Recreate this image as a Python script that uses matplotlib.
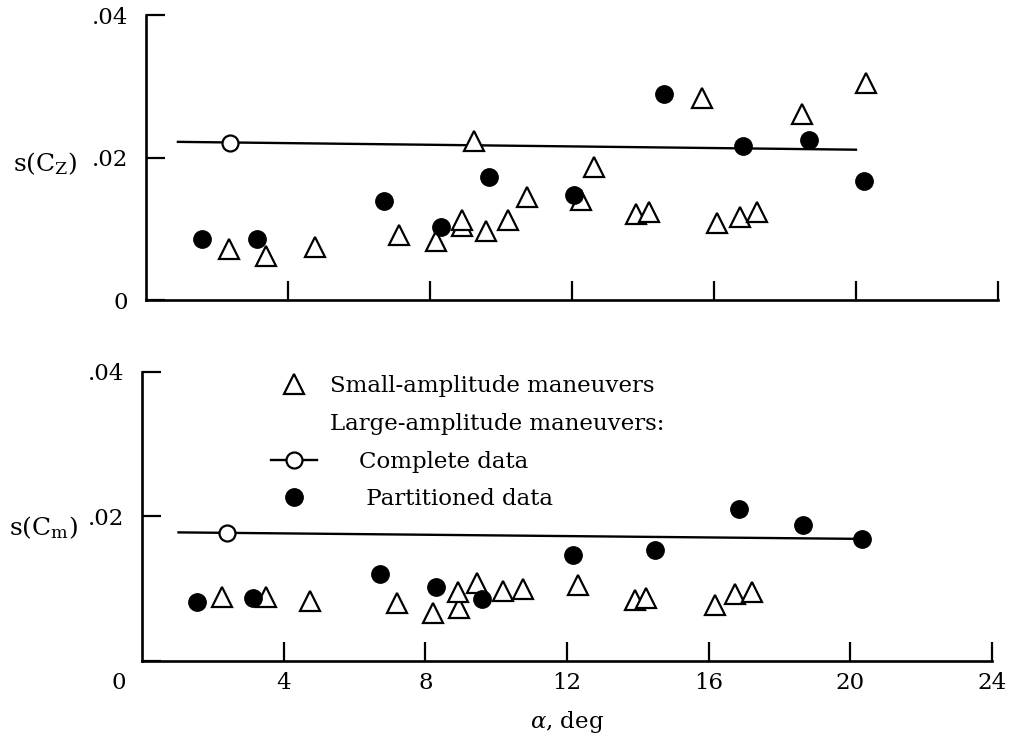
import numpy as np
import matplotlib
matplotlib.use('Agg')
import matplotlib.pyplot as plt

plt.rcParams['font.family'] = 'DejaVu Serif'
plt.rcParams['mathtext.fontset'] = 'dejavuserif'
plt.rcParams['font.size'] = 16.5

# s(C_Z), upper plot
tri_z_x = [2.33, 3.37, 4.77, 7.14, 8.16, 8.89, 8.89, 9.23, 9.57, 10.21, 10.74,
           12.25, 12.63, 13.79, 14.17, 15.65, 16.08, 16.73, 17.2, 18.49, 20.27]
tri_z_y = [0.0071, 0.0062, 0.0075, 0.0091, 0.0083, 0.0104, 0.0113, 0.0223, 0.0097, 0.0112, 0.0144,
           0.0141, 0.0187, 0.0121, 0.0123, 0.0284, 0.0108, 0.0117, 0.0123, 0.0261, 0.0305]
part_z_x = [1.57, 3.14, 6.71, 8.31, 9.66, 12.05, 14.58, 16.81, 18.69, 20.23]
part_z_y = [0.0086, 0.0085, 0.0139, 0.0103, 0.0173, 0.0148, 0.0289, 0.0216, 0.0225, 0.0167]
comp_z_x = [0.9, 20.0]
comp_z_y = [0.0222, 0.0211]
comp_z_pt = [2.37, 0.0220]

# s(C_m), lower plot
tri_m_x = [2.27, 3.51, 4.73, 7.20, 8.22, 8.95, 8.93, 9.47, 10.20, 10.75,
           12.32, 13.91, 14.22, 16.19, 16.74, 17.23]
tri_m_y = [0.0089, 0.0088, 0.0083, 0.0080, 0.0066, 0.0074, 0.0095, 0.0108, 0.0097, 0.0099,
           0.0105, 0.0084, 0.0087, 0.0078, 0.0093, 0.0095]
part_m_x = [1.56, 3.12, 6.71, 8.29, 9.59, 12.16, 14.48, 16.86, 18.67, 20.34]
part_m_y = [0.0081, 0.0087, 0.0121, 0.0103, 0.0086, 0.0147, 0.0153, 0.0211, 0.0188, 0.0169]
comp_m_x = [1.03, 20.3]
comp_m_y = [0.0178, 0.0169]
comp_m_pt = [2.41, 0.0177]

xticks = [4, 8, 12, 16, 20, 24]
yticks = [0, 0.02, 0.04]

fig = plt.figure(figsize=(10.13, 7.37), dpi=100)
ax1 = fig.add_axes([0.1441, 0.5929, 0.8411, 0.3867])
ax2 = fig.add_axes([0.1402, 0.1031, 0.8391, 0.3922])

def style(ax):
    ax.set_xlim(0, 24)
    ax.set_ylim(0, 0.04)
    for s in ['top', 'right']:
        ax.spines[s].set_visible(False)
    for s in ['left', 'bottom']:
        ax.spines[s].set_linewidth(1.9)
    ax.tick_params(direction='in', length=14, width=1.6)
    ax.tick_params(axis='y', pad=13)
    ax.tick_params(axis='x', pad=8)
    ax.set_xticks(xticks)

def draw(ax, tx, ty, px, py, cx, cy, pt):
    ax.plot(cx, cy, color='k', lw=1.7, zorder=2)
    ax.plot(pt[0], pt[1], ls='none', marker='o', ms=11.5, mfc='white', mec='k', mew=1.6, zorder=3)
    h_tri, = ax.plot(tx, ty, ls='none', marker='^', ms=14.5, mfc='white', mec='k', mew=1.6, zorder=4)
    h_part, = ax.plot(px, py, ls='none', marker='o', ms=12.5, color='k', zorder=5)
    return h_tri, h_part

style(ax1)
draw(ax1, tri_z_x, tri_z_y, part_z_x, part_z_y, comp_z_x, comp_z_y, comp_z_pt)
ax1.set_xticklabels([])
ax1.set_yticks(yticks)
ax1.set_yticklabels(['0', '.02', '.04'])
ax1.set_ylabel(r'$\mathrm{s(C_Z)}$', rotation=0, ha='center', va='center', fontsize=18)
ax1.yaxis.set_label_coords(-0.118, 0.48)

style(ax2)
h_tri, h_part = draw(ax2, tri_m_x, tri_m_y, part_m_x, part_m_y, comp_m_x, comp_m_y, comp_m_pt)
ax2.set_xticklabels([str(t) for t in xticks])
ax2.set_yticks(yticks)
ax2.set_yticklabels(['', '.02', '.04'])
ax2.annotate('0', xy=(0, 0), xytext=(-17, -8), textcoords='offset points', ha='center', va='top')
ax2.set_ylabel(r'$\mathrm{s(C_m)}$', rotation=0, ha='center', va='center', fontsize=18)
ax2.yaxis.set_label_coords(-0.116, 0.46)
ax2.set_xlabel(r'$\alpha$, deg', labelpad=11)

h_blank = plt.Line2D([], [], ls='none')
h_comp = plt.Line2D([], [], color='k', lw=1.7, marker='o', ms=11.5, mfc='white', mec='k', mew=1.6)
ax2.legend([h_tri, h_blank, h_comp, h_part],
           ['Small-amplitude maneuvers', 'Large-amplitude maneuvers:',
            '    Complete data', '     Partitioned data'],
           loc='upper left', bbox_to_anchor=(0.152, 0.988), frameon=False,
           borderaxespad=0, borderpad=0, handlelength=2.0, handletextpad=0.57,
           labelspacing=0.68, fontsize=16.5)

plt.savefig('out.png', dpi=100)
